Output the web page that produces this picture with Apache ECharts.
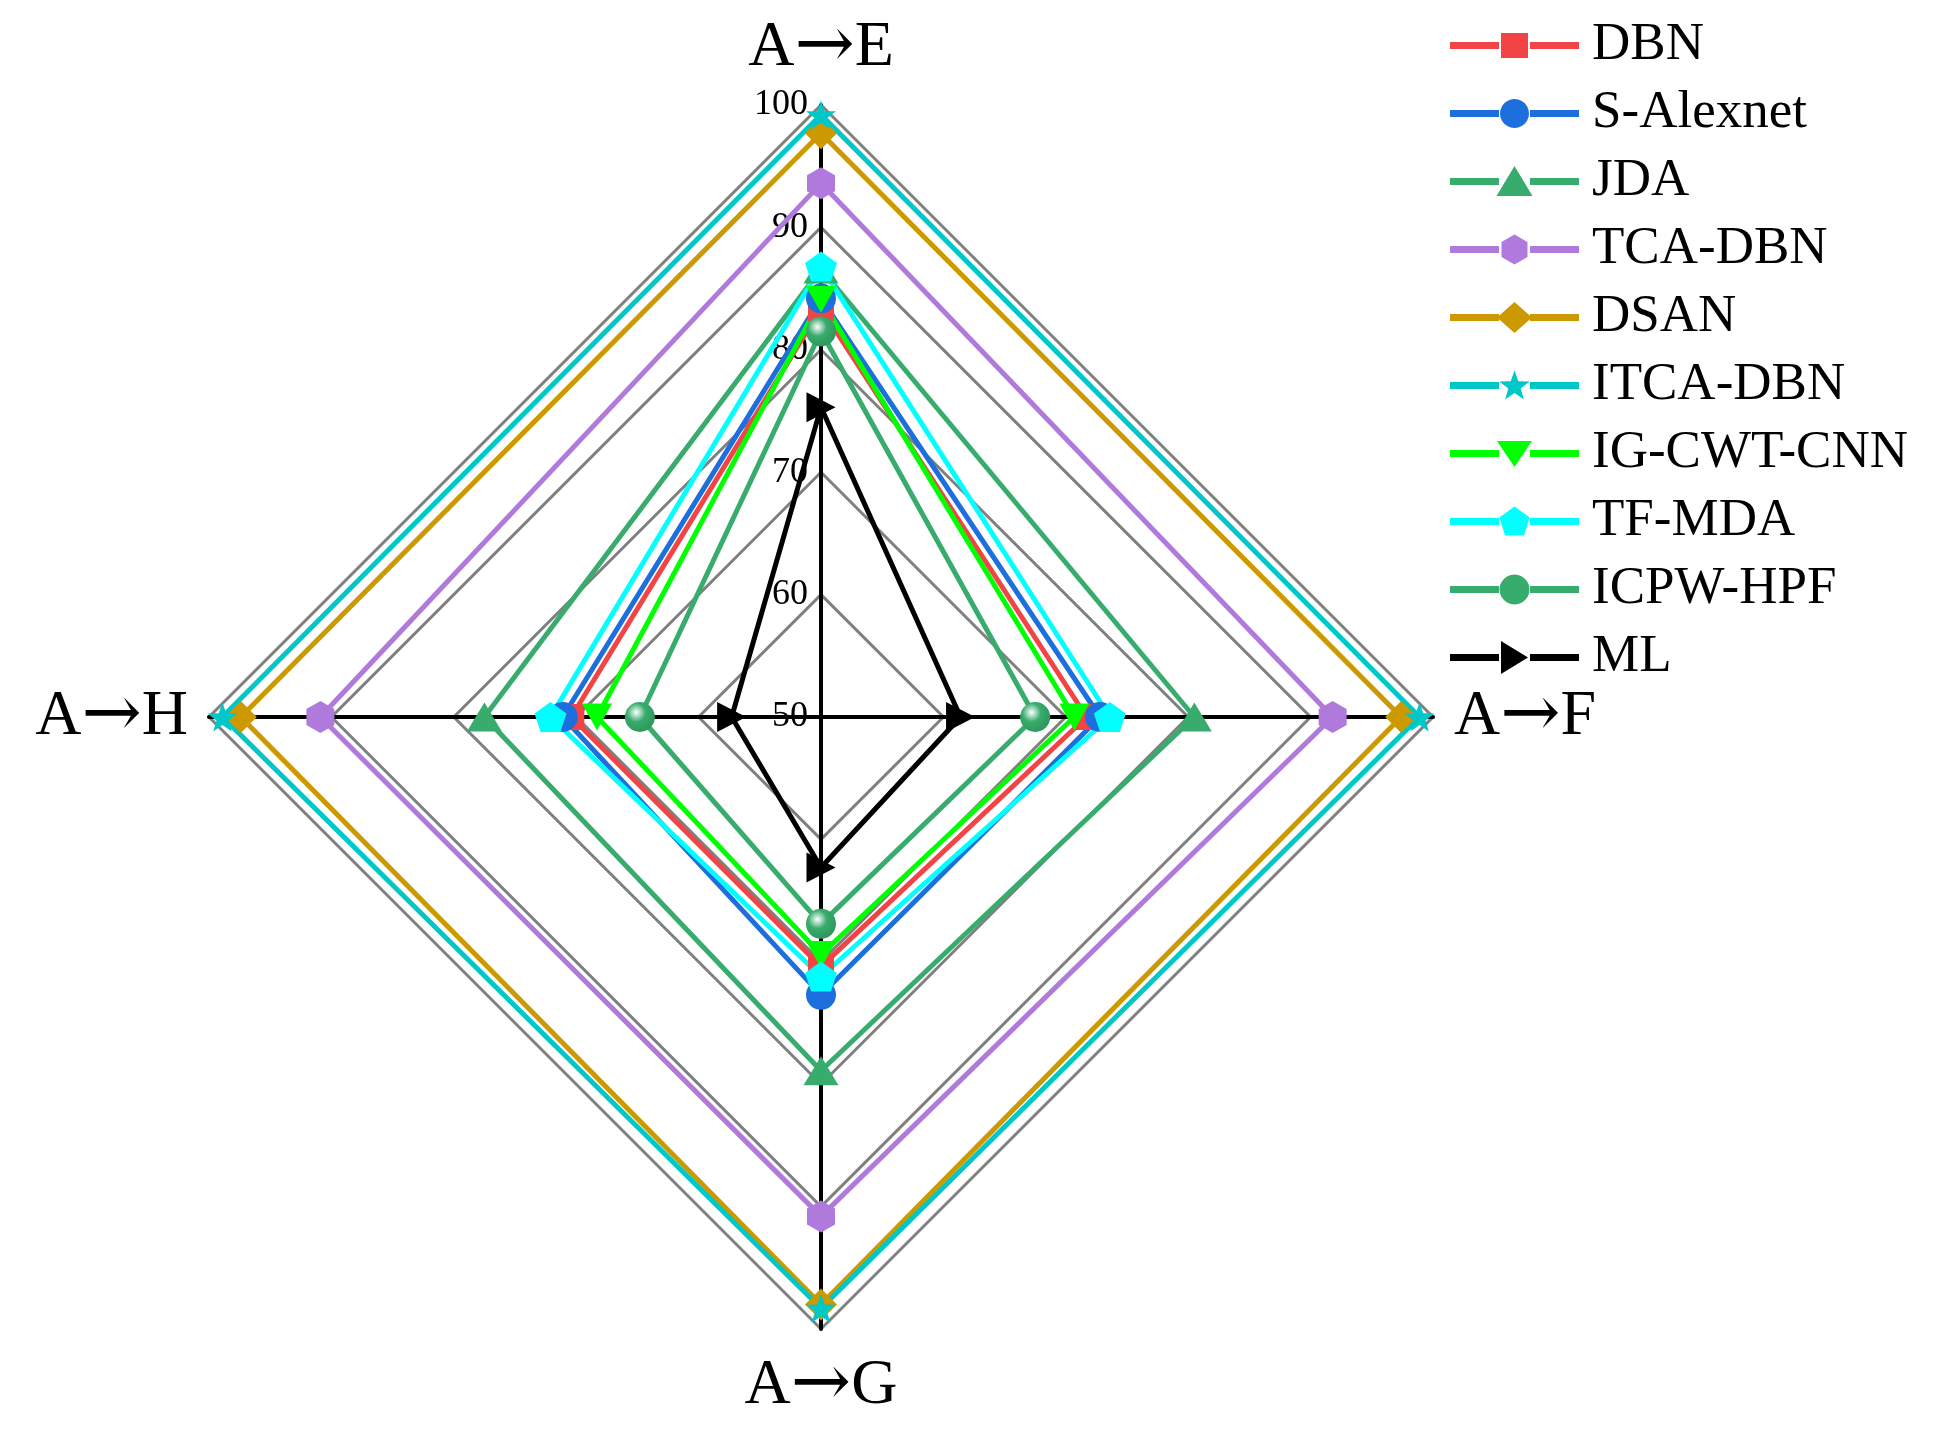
<!DOCTYPE html>
<html>
<head>
<meta charset="utf-8">
<script src="https://cdn.jsdelivr.net/npm/echarts@6/dist/echarts.min.js"></script>
<style>
html,body{margin:0;padding:0;background:#fff}
#main{width:1938px;height:1432px}
</style>
</head>
<body>
<div id="main"></div>
<script>
// 雷达轴，ECharts按逆时针排：上、左、下、右
var axes = ['A→E', 'A→H', 'A→G', 'A→F'];
var axisMin = 50, axisMax = 100;
var names = ['DBN', 'S-Alexnet', 'JDA', 'TCA-DBN', 'DSAN', 'ITCA-DBN', 'IG-CWT-CNN', 'TF-MDA', 'ICPW-HPF', 'ML'];
// 各方法准确率，顺序同axes
var dbn     = [83.4, 70.4, 70.4, 71.7];
var alexnet = [84.2, 71.1, 72.7, 72.8];
var jda     = [86.6, 77.5, 78.9, 80.5];
var tcaDbn  = [93.6, 90.9, 90.8, 91.8];
var dsan    = [97.7, 97.4, 98.0, 97.4];
var itcaDbn = [99.2, 98.9, 98.3, 98.9];
var igCwt   = [84.1, 68.3, 69.4, 70.7];
var tfMda   = [86.8, 72.1, 71.2, 73.6];
var icpw    = [81.5, 64.8, 66.9, 67.5];
var ml      = [75.3, 57.3, 62.3, 61.4];
var values = [dbn, alexnet, jda, tcaDbn, dsan, itcaDbn, igCwt, tfMda, icpw, ml];
var colors = ['#f24444', '#1c6fdd', '#38ac6c', '#b07adc', '#cc9900', '#00c8c8', '#00ff00', '#00ffff', '#38ac6c', '#000000'];

//多边形/星形路径
function poly(n, R, r, cx, cy, rot){
	var k = r ? 2 * n : n, pts = [];
	for (var i = 0; i < k; i++){
		var a = (rot + i * 360 / k) * Math.PI / 180;
		var rr = (r && i % 2) ? r : R;
		pts.push((cx + rr * Math.cos(a)).toFixed(2) + ',' + (cy + rr * Math.sin(a)).toFixed(2));
	}
	return 'M' + pts.join(' L') + ' Z';
}
//图上的标记
var syms = [
	{symbol:'rect', size:26},
	{symbol:'circle', size:30},
	{symbol:'triangle', size:[35, 29]},
	{symbol:'path://' + poly(6, 50, 0, 50, 50, -90), size:[28, 32]},
	{symbol:'diamond', size:[32, 32]},
	{symbol:'path://' + poly(5, 50, 20, 50, 50, -90), size:[30, 29]},
	{symbol:'path://M0,0 L100,0 L50,87 Z', size:[30, 27]},
	{symbol:'path://' + poly(5, 50, 0, 50, 50, -90), size:[32, 30]},
	{symbol:'circle', size:30},
	{symbol:'path://M0,0 L87,50 L0,100 Z', size:[29, 30]}
];
//图例中的标记（129x33坐标内，中心64.5,16.5）
var legendMarks = [
	'M51,4 L78,4 L78,29 L51,29 Z',
	poly(24, 14.5, 0, 64.5, 16.5, 0),
	'M46.5,31 L64.5,1 L82.5,31 Z',
	poly(6, 15, 0, 64.5, 16.5, -90),
	'M64.5,1 L82,16.5 L64.5,32 L47,16.5 Z',
	poly(5, 16, 6.5, 64.5, 17.5, -90),
	'M47,4 L82,4 L64.5,30 Z',
	poly(5, 16, 0, 64.5, 17.5, -90),
	poly(24, 15, 0, 64.5, 16.5, 0),
	'M51,0 L78,16.5 L51,33 Z'
];
var lineBits = 'M0,0 M129,33 M0,13 L49,13 L49,20 L0,20 Z M80,13 L129,13 L129,20 L80,20 Z ';

var sphere = new echarts.graphic.RadialGradient(0.38, 0.35, 0.62, [
	{offset:0, color:'#ffffff'},
	{offset:0.22, color:'#a8dcbf'},
	{offset:0.5, color:'#38ac6c'},
	{offset:1, color:'#2f9a5e'}
]);

var seriesData = names.map(function(n, i){
	return {
		name: n,
		value: values[i],
		symbol: syms[i].symbol,
		symbolSize: syms[i].size,
		lineStyle: {color: colors[i], width: 5},
		itemStyle: {color: n == 'ICPW-HPF' ? sphere : colors[i], borderWidth: 0}
	};
});
var legendData = names.map(function(n, i){
	return {
		name: n,
		icon: 'path://' + lineBits + legendMarks[i],
		itemStyle: {color: colors[i], borderWidth: 0}
	};
});

var chart = echarts.init(document.getElementById('main'));
chart.setOption({
	backgroundColor: '#fff',
	animation: false,
	legend: {
		orient: 'vertical',
		left: 1445,
		top: 14,
		itemWidth: 129,
		itemHeight: 33,
		itemGap: 15,
		data: legendData,
		textStyle: {
			color: '#000',
			fontSize: 53,
			lineHeight: 53,
			fontFamily: 'Liberation Serif',
			padding: [0, 0, 0, 8]
		}
	},
	radar: {
		center: [821, 717],
		radius: 612,
		shape: 'polygon',
		splitNumber: 5,
		nameGap: 21,
		axisName: {
			color: '#000',
			fontSize: 64,
			fontFamily: 'Liberation Serif',
			formatter: function(name){
				var p = name.split('→');
				return '{t|' + p[0] + '}{a|→}{t|' + p[1] + '}';
			},
			rich: {
				t: {fontSize: 64, fontFamily: 'Liberation Serif', color: '#000'},
				a: {fontSize: 72, fontFamily: 'DejaVu Serif', color: '#000'}
			}
		},
		indicator: axes.map(function(a, i){
			var ind = {name: a, min: axisMin, max: axisMax};
			if (i > 0) ind.axisLabel = {show: false};
			return ind;
		}),
		axisLine: {lineStyle: {color: '#000', width: 4}},
		axisTick: {show: false},
		axisLabel: {
			show: true,
			color: '#000',
			fontSize: 36,
			fontFamily: 'Liberation Serif',
			margin: 13
		},
		splitLine: {lineStyle: {color: '#808080', width: 3}},
		splitArea: {show: false}
	},
	series: [{
		type: 'radar',
		data: seriesData
	}]
});
</script>
</body>
</html>
